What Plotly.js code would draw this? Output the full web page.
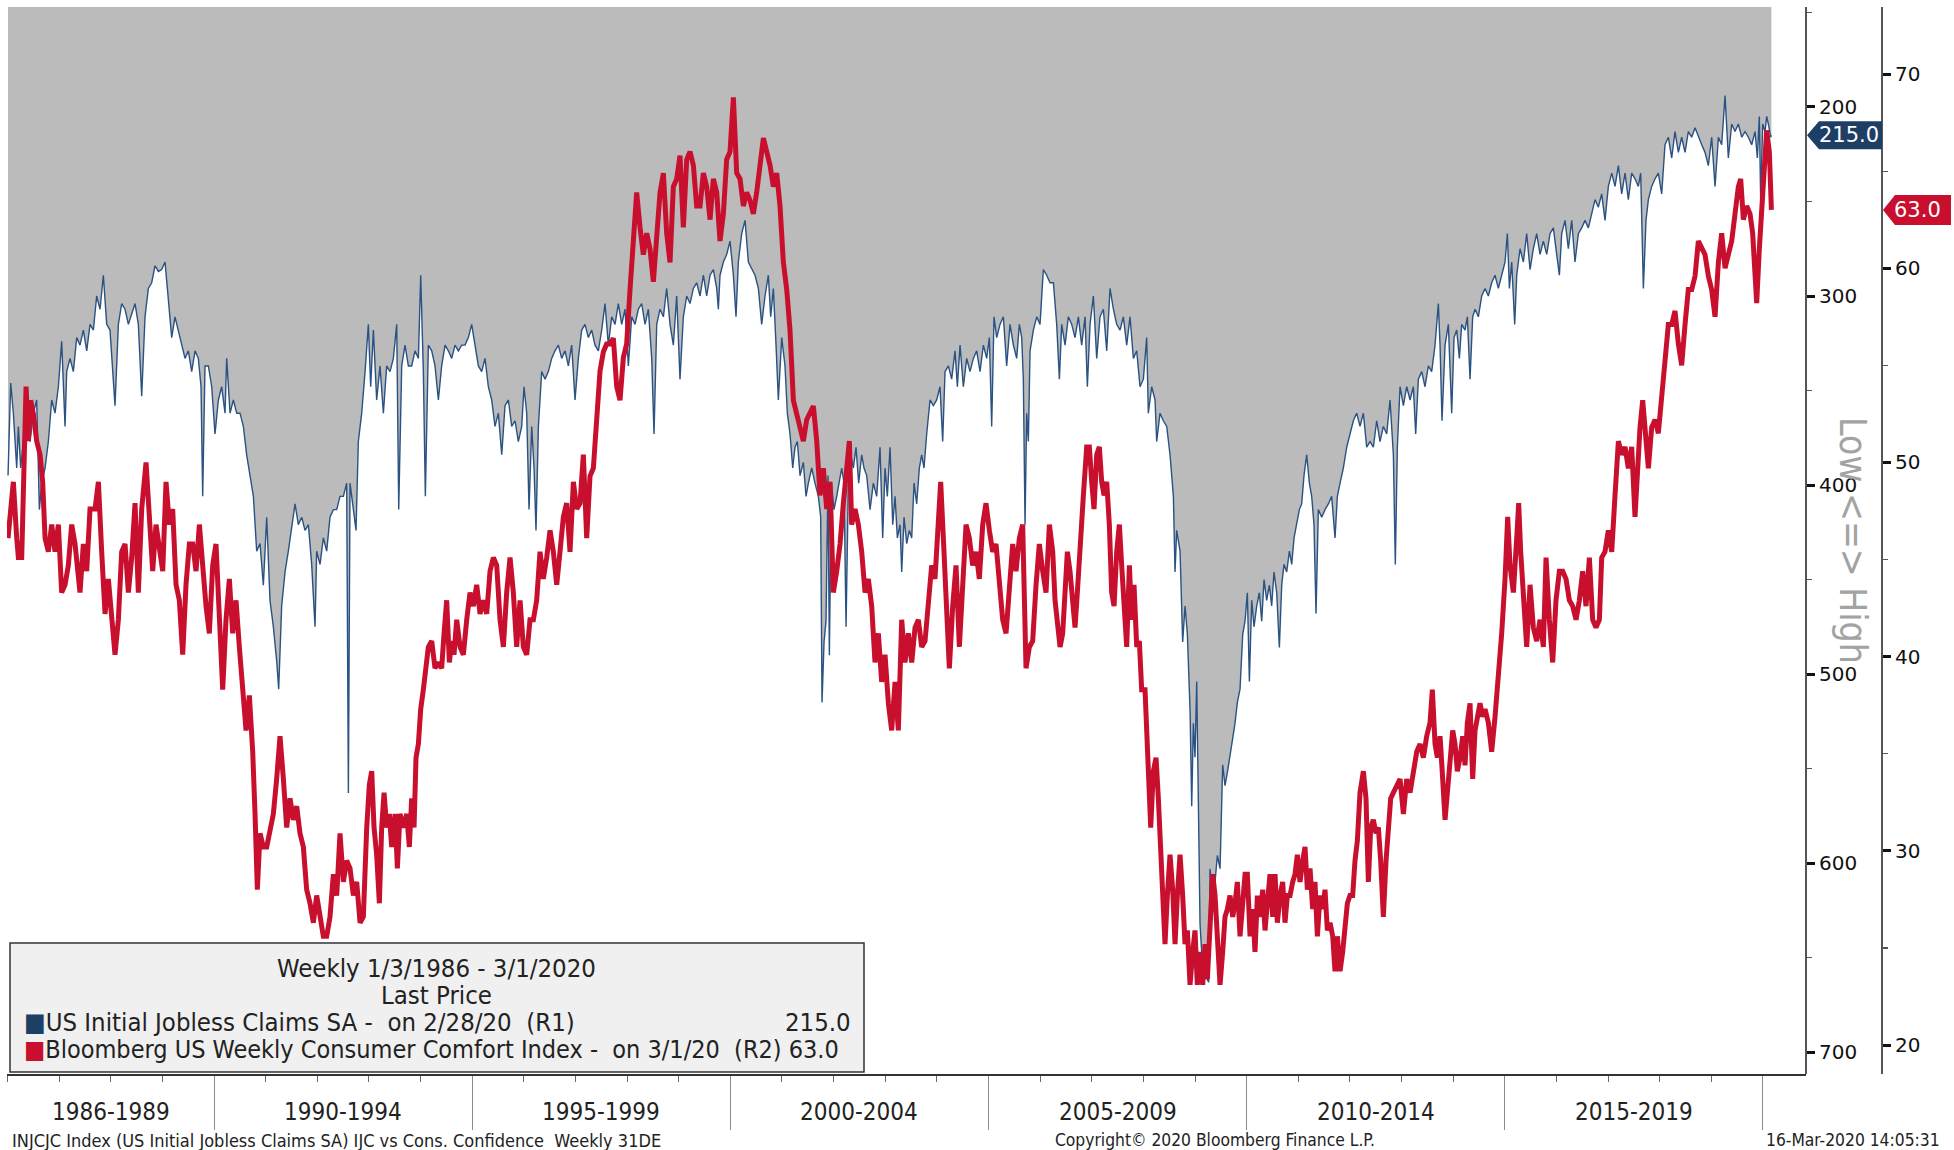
<!DOCTYPE html>
<html><head><meta charset="utf-8">
<script src="https://cdn.plot.ly/plotly-3.0.1.min.js"></script>
<style>html,body{margin:0;padding:0;background:#fff;overflow:hidden}#chart{width:1954px;height:1150px}</style>
</head><body><div id="chart"></div>
<script>
// ---------- DATA ----------
// US Initial Jobless Claims SA (thousands), x in decimal years
const claimsYear = [
1986.010,1986.062,1986.113,1986.146,1986.178,1986.210,1986.255,1986.307,1986.371,1986.436,
1986.501,1986.565,1986.617,1986.662,1986.727,1986.791,1986.856,1986.920,1986.985,1987.049,
1987.114,1987.146,1987.211,1987.275,1987.340,1987.404,1987.469,1987.534,1987.598,1987.663,
1987.727,1987.792,1987.856,1987.921,1987.985,1988.082,1988.147,1988.211,1988.276,1988.341,
1988.405,1988.470,1988.534,1988.599,1988.663,1988.728,1988.792,1988.857,1988.922,1988.986,
1989.051,1989.115,1989.180,1989.244,1989.309,1989.374,1989.438,1989.503,1989.567,1989.632,
1989.696,1989.748,1989.780,1989.825,1989.890,1989.955,1990.019,1990.084,1990.148,1990.213,
1990.245,1990.310,1990.374,1990.439,1990.503,1990.568,1990.632,1990.697,1990.762,1990.826,
1990.891,1990.955,1991.020,1991.084,1991.149,1991.213,1991.252,1991.310,1991.375,1991.439,
1991.504,1991.569,1991.633,1991.698,1991.762,1991.827,1991.891,1991.956,1991.988,1992.053,
1992.117,1992.182,1992.246,1992.311,1992.376,1992.440,1992.505,1992.569,1992.602,1992.634,
1992.699,1992.750,1992.795,1992.860,1992.925,1992.989,1993.034,1993.086,1993.150,1993.215,
1993.280,1993.344,1993.409,1993.473,1993.538,1993.577,1993.635,1993.699,1993.764,1993.828,
1993.893,1993.958,1994.003,1994.054,1994.093,1994.151,1994.216,1994.280,1994.345,1994.409,
1994.474,1994.539,1994.603,1994.668,1994.732,1994.797,1994.861,1994.926,1994.990,1995.055,
1995.120,1995.184,1995.249,1995.313,1995.378,1995.442,1995.507,1995.572,1995.636,1995.701,
1995.765,1995.830,1995.894,1995.959,1996.004,1996.056,1996.101,1996.153,1996.198,1996.236,
1996.282,1996.346,1996.411,1996.475,1996.540,1996.604,1996.669,1996.734,1996.798,1996.863,
1996.927,1996.992,1997.056,1997.121,1997.185,1997.250,1997.315,1997.379,1997.444,1997.508,
1997.573,1997.637,1997.702,1997.767,1997.831,1997.896,1997.960,1998.025,1998.089,1998.154,
1998.218,1998.283,1998.348,1998.412,1998.477,1998.522,1998.574,1998.638,1998.703,1998.767,
1998.832,1998.896,1998.961,1999.025,1999.090,1999.155,1999.219,1999.284,1999.348,1999.413,
1999.478,1999.542,1999.607,1999.671,1999.736,1999.768,1999.800,1999.865,1999.929,1999.994,
2000.059,2000.110,2000.155,2000.220,2000.285,2000.349,2000.414,2000.478,2000.543,2000.607,
2000.672,2000.736,2000.782,2000.833,2000.885,2000.930,2000.995,2001.059,2001.104,2001.156,
2001.208,2001.253,2001.298,2001.350,2001.414,2001.466,2001.511,2001.576,2001.640,2001.705,
2001.750,2001.776,2001.815,2001.853,2001.892,2001.918,2001.957,2002.008,2002.060,2002.112,
2002.157,2002.202,2002.241,2002.286,2002.331,2002.383,2002.434,2002.486,2002.544,2002.589,
2002.641,2002.706,2002.770,2002.835,2002.899,2002.951,2002.996,2003.041,2003.093,2003.145,
2003.190,2003.235,2003.287,2003.319,2003.364,2003.416,2003.467,2003.513,2003.558,2003.609,
2003.661,2003.706,2003.751,2003.803,2003.868,2003.932,2003.997,2004.061,2004.113,2004.158,
2004.223,2004.287,2004.352,2004.397,2004.449,2004.513,2004.578,2004.642,2004.707,2004.771,
2004.836,2004.901,2004.965,2005.017,2005.062,2005.107,2005.159,2005.223,2005.288,2005.352,
2005.417,2005.482,2005.546,2005.598,2005.643,2005.675,2005.708,2005.740,2005.772,2005.805,
2005.869,2005.934,2005.998,2006.063,2006.127,2006.192,
2006.257,2006.321,2006.373,2006.418,2006.483,2006.547,2006.612,2006.676,2006.741,2006.805,
2006.870,2006.915,2006.967,2007.031,2007.096,2007.160,2007.225,2007.290,2007.354,2007.419,
2007.483,2007.548,2007.612,2007.677,2007.741,2007.806,2007.871,2007.935,2008.000,2008.064,
2008.096,2008.161,2008.226,2008.258,2008.322,2008.387,2008.452,2008.516,2008.581,2008.613,
2008.645,2008.710,2008.761,2008.807,2008.852,2008.904,2008.936,2008.968,2009.000,2009.033,
2009.065,2009.097,2009.129,2009.175,2009.226,2009.265,2009.291,2009.343,2009.388,2009.433,
2009.485,2009.536,2009.581,2009.627,2009.678,2009.730,2009.775,2009.820,2009.872,2009.924,
2009.969,2010.014,2010.053,2010.098,2010.143,2010.195,2010.246,2010.292,2010.337,2010.388,
2010.440,2010.485,2010.530,2010.582,2010.634,2010.679,2010.724,2010.776,2010.828,2010.873,
2010.918,2010.970,2011.021,2011.066,2011.111,2011.163,2011.215,2011.260,2011.305,2011.344,
2011.389,2011.454,2011.518,2011.583,2011.647,2011.712,2011.757,2011.809,2011.873,2011.938,
2012.002,2012.067,2012.131,2012.196,2012.261,2012.325,2012.390,2012.454,2012.519,2012.583,
2012.648,2012.713,2012.777,2012.842,2012.880,2012.919,2012.971,
2013.036,2013.100,2013.165,2013.229,2013.274,2013.326,2013.391,2013.455,2013.520,2013.584,
2013.649,2013.713,2013.746,2013.784,2013.843,2013.907,2013.972,2014.017,2014.069,2014.120,
2014.165,2014.230,2014.275,2014.327,2014.378,2014.424,2014.488,2014.553,2014.617,2014.682,
2014.746,2014.811,2014.875,2014.940,2015.005,2015.050,2015.089,2015.134,2015.192,2015.231,
2015.295,2015.360,2015.424,2015.489,2015.553,2015.618,2015.683,2015.747,2015.812,2015.876,
2015.941,2016.005,2016.057,2016.102,2016.167,2016.231,2016.296,2016.360,2016.425,2016.489,
2016.554,2016.619,2016.683,2016.748,2016.812,2016.877,2016.941,2017.006,2017.071,2017.135,
2017.200,2017.264,2017.329,2017.393,2017.458,2017.522,2017.587,2017.632,2017.684,2017.735,
2017.781,2017.845,2017.910,2017.974,2018.039,2018.103,2018.168,2018.233,2018.297,2018.362,
2018.426,2018.491,2018.555,2018.620,2018.685,2018.749,2018.814,2018.878,2018.943,2019.007,
2019.072,2019.137,2019.201,2019.266,2019.330,2019.395,2019.459,2019.524,2019.589,2019.653,
2019.718,2019.782,2019.847,2019.892,2019.930,2019.956,2019.995,2020.040,2020.072,2020.105,
2020.150,2020.163
];
const claimsValue = [
395,346,362,377,391,369,391,377,366,377,
362,355,413,399,391,377,355,362,348,324,
369,340,333,340,322,326,318,329,315,318,
300,307,289,315,318,358,315,304,307,315,
309,304,315,353,311,296,293,284,287,286,
282,304,322,311,318,326,333,329,340,329,
333,348,406,337,337,348,373,355,348,362,
333,362,355,362,362,369,384,395,406,435,
431,453,417,461,475,493,508,464,446,435,
421,410,421,417,424,421,442,475,435,442,
428,435,417,413,413,406,406,399,563,399,
413,424,377,362,340,315,348,318,355,337,
362,337,340,333,315,413,337,326,337,337,
329,333,289,340,406,326,329,337,355,337,
326,329,333,326,329,326,326,322,315,326,
337,340,333,348,355,369,362,384,358,355,
369,366,377,369,348,362,413,369,391,424,
369,340,344,340,333,329,326,333,329,337,
326,355,333,318,315,322,318,326,329,318,
304,326,311,315,304,315,307,337,311,315,
307,304,315,307,333,373,315,307,311,296,
315,326,300,344,311,300,304,296,293,300,
289,300,289,286,296,307,289,282,278,271,
289,311,282,267,260,282,286,289,296,315,
300,289,311,296,326,355,322,337,362,373,
391,380,377,395,388,406,399,391,399,406,
417,515,483,472,395,490,399,413,406,399,
391,399,475,399,384,391,380,399,384,391,
395,413,399,406,380,428,391,406,380,421,
406,428,421,446,417,431,424,428,399,410,
391,384,391,373,355,358,355,348,377,340,
337,344,329,348,326,348,333,340,333,329,
340,326,333,322,369,311,322,315,311,337,
315,326,333,315,322,344,421,362,377,329,
318,311,315,286,289,293,
293,315,344,315,326,311,315,322,311,326,
311,348,315,300,333,311,307,329,296,307,
315,318,311,326,311,333,329,348,344,322,
362,348,355,377,362,366,369,384,406,446,
424,435,483,464,479,519,570,526,544,504,
581,632,647,654,661,663,603,617,610,596,
603,548,559,552,544,534,526,515,508,479,
472,457,504,461,475,464,457,472,450,461,
453,464,446,457,486,453,442,446,435,442,
428,421,413,410,395,384,399,406,421,468,
413,417,413,410,406,428,406,399,391,380,
373,366,362,369,362,380,377,380,366,377,
369,373,355,384,442,380,348,
358,348,355,348,373,344,340,348,337,340,
326,304,326,366,326,315,362,322,318,333,
315,318,311,344,311,307,311,300,296,300,
293,289,296,289,282,267,296,282,315,289,
275,282,267,286,275,267,278,271,278,267,
264,278,289,267,260,275,260,282,267,264,
260,264,256,249,253,246,260,242,235,242,
231,246,235,249,235,238,242,235,296,260,
249,242,238,235,246,220,216,227,213,224,
216,224,213,216,211,216,220,224,231,216,
242,216,220,194,227,209,213,209,216,213,
216,220,213,227,205,249,209,213,205,209,
216,215
];

// Bloomberg US Weekly Consumer Comfort Index, x in decimal years
const comfortYear = [
1986.010,1986.113,1986.178,1986.210,1986.275,1986.307,1986.359,1986.404,1986.449,1986.501,
1986.565,1986.630,1986.681,1986.727,1986.791,1986.856,1986.920,1986.985,1987.049,1987.114,
1987.178,1987.243,1987.308,1987.404,1987.469,1987.534,1987.598,1987.695,1987.760,1987.824,
1987.889,1987.953,1988.018,1988.082,1988.147,1988.211,1988.276,1988.341,1988.405,1988.470,
1988.534,1988.599,1988.683,1988.747,1988.812,1988.876,1988.941,1989.006,1989.070,1989.135,
1989.199,1989.264,1989.328,1989.393,1989.457,1989.522,1989.587,1989.651,1989.716,1989.780,
1989.845,1989.909,1989.974,1990.038,1990.103,1990.168,1990.232,1990.297,1990.361,1990.426,
1990.490,1990.555,1990.620,1990.684,1990.749,1990.794,1990.839,1990.891,1990.955,1991.020,
1991.084,1991.149,1991.213,1991.278,1991.343,1991.407,1991.472,1991.536,1991.601,1991.665,
1991.730,1991.794,1991.859,1991.924,1991.988,1992.053,1992.117,1992.182,1992.246,1992.311,
1992.376,1992.440,1992.505,1992.569,1992.634,
1992.699,1992.763,1992.828,1992.892,1992.957,1993.008,1993.054,1993.099,1993.150,1993.202,
1993.247,1993.293,1993.344,1993.396,1993.441,1993.506,1993.551,1993.602,1993.667,1993.732,
1993.783,1993.828,1993.874,1993.912,1993.958,1994.003,1994.054,1994.106,1994.151,1994.216,
1994.280,1994.345,1994.409,1994.455,1994.506,1994.558,1994.603,1994.648,1994.700,1994.765,
1994.829,1994.894,1994.958,1995.023,1995.087,1995.152,1995.216,1995.281,1995.346,1995.410,
1995.475,1995.539,1995.604,1995.668,1995.733,1995.797,1995.862,1995.927,1995.991,1996.056,
1996.120,1996.185,1996.249,1996.314,1996.378,1996.443,1996.508,1996.572,1996.637,1996.701,
1996.766,1996.830,1996.895,1996.960,1997.024,1997.089,1997.153,1997.218,1997.282,1997.347,
1997.411,1997.476,1997.541,1997.605,1997.670,1997.734,1997.799,1997.863,1997.928,1997.992,
1998.057,1998.122,1998.186,1998.251,1998.315,1998.380,1998.444,1998.509,1998.573,1998.638,
1998.703,1998.767,1998.832,1998.896,1998.961,1999.025,1999.090,1999.155,1999.219,1999.284,
1999.348,1999.413,
1999.478,1999.542,1999.607,1999.671,1999.736,1999.800,1999.865,1999.929,1999.994,2000.059,
2000.123,2000.188,2000.252,2000.317,2000.381,2000.446,2000.510,2000.575,2000.640,2000.704,
2000.769,2000.833,2000.898,2000.962,2001.027,2001.092,2001.156,2001.221,2001.285,2001.350,
2001.414,2001.479,2001.543,2001.608,2001.673,2001.737,2001.802,2001.866,2001.931,2001.995,
2002.060,2002.125,2002.189,2002.254,2002.305,2002.350,2002.415,2002.480,2002.544,2002.609,
2002.673,2002.738,2002.802,2002.867,2002.931,2002.996,2003.061,2003.125,2003.190,2003.254,
2003.319,2003.383,2003.448,2003.513,2003.577,2003.642,2003.706,2003.771,2003.835,2003.900,
2003.964,2004.029,2004.074,2004.126,2004.191,2004.242,2004.307,2004.371,2004.436,2004.500,
2004.565,2004.630,2004.694,2004.759,2004.823,2004.888,2004.952,2005.017,2005.081,2005.146,
2005.211,2005.275,2005.340,2005.404,2005.469,2005.533,2005.598,2005.662,2005.727,2005.792,
2005.856,2005.921,2005.985,2006.050,2006.114,2006.179,
2006.244,2006.289,2006.334,2006.386,2006.437,2006.483,2006.528,2006.579,2006.631,2006.676,
2006.721,2006.773,2006.838,2006.902,2006.954,2006.999,2007.044,2007.096,2007.147,2007.193,
2007.238,2007.290,2007.341,2007.386,2007.432,2007.483,2007.535,2007.580,2007.625,2007.677,
2007.729,2007.774,2007.819,2007.871,2007.922,2007.967,2008.032,2008.096,2008.142,2008.193,
2008.245,2008.290,2008.335,2008.387,2008.419,2008.464,2008.516,2008.568,2008.613,2008.658,
2008.710,2008.761,2008.807,2008.852,2008.904,2008.955,2009.000,2009.045,2009.097,2009.149,
2009.194,2009.239,2009.291,2009.343,2009.388,2009.433,2009.485,2009.536,2009.581,2009.627,
2009.678,2009.730,2009.775,2009.820,2009.872,2009.924,2009.969,2010.014,2010.066,2010.117,
2010.162,2010.208,2010.259,2010.311,2010.356,2010.401,2010.453,2010.505,2010.550,2010.595,
2010.647,2010.698,2010.743,2010.789,2010.840,2010.892,2010.937,2010.982,2011.034,2011.086,
2011.131,2011.176,2011.228,2011.279,2011.324,2011.370,2011.421,2011.473,2011.518,2011.563,
2011.615,2011.667,2011.712,2011.757,2011.809,2011.860,2011.905,2011.951,2012.002,2012.054,
2012.099,2012.144,2012.196,2012.261,2012.312,2012.358,2012.403,2012.454,2012.506,2012.551,
2012.596,2012.648,2012.700,2012.745,2012.790,2012.842,2012.906,2012.971,
2013.036,2013.100,2013.165,2013.229,2013.294,2013.358,2013.423,2013.487,2013.552,2013.597,
2013.649,2013.694,2013.746,2013.797,2013.843,2013.888,2013.939,2013.991,2014.036,2014.081,
2014.133,2014.185,2014.230,2014.275,2014.327,2014.378,2014.424,2014.469,2014.520,2014.572,
2014.617,2014.682,2014.746,2014.811,2014.875,2014.940,2015.005,2015.056,2015.101,2015.166,
2015.231,2015.269,2015.308,2015.360,2015.424,2015.489,2015.553,2015.618,2015.683,2015.747,
2015.799,2015.863,2015.928,2015.992,2016.057,2016.121,2016.186,2016.251,2016.315,2016.380,
2016.444,2016.509,2016.573,2016.638,2016.702,2016.767,2016.832,2016.877,2016.941,2017.006,
2017.071,2017.135,2017.200,2017.264,2017.329,2017.393,2017.458,2017.522,2017.568,2017.619,
2017.671,2017.716,2017.781,2017.845,2017.910,2017.974,2018.039,2018.103,2018.168,2018.233,
2018.297,2018.362,2018.426,2018.491,2018.555,2018.620,2018.685,2018.749,2018.814,2018.878,
2018.943,2019.007,2019.072,2019.137,2019.201,2019.266,2019.330,2019.395,2019.459,2019.524,
2019.569,2019.621,2019.685,2019.750,2019.801,2019.847,2019.879,2019.930,2019.975,2020.021,
2020.072,2020.124,2020.164
];
const comfortValue = [
46.1,49.0,46.1,45.1,45.1,49.7,53.9,51.1,53.2,52.5,
51.1,50.4,49.0,46.1,45.4,46.8,45.4,46.8,43.3,43.7,
44.7,46.8,45.8,43.3,45.8,44.4,47.6,47.6,49.0,45.4,
42.2,44.0,41.9,40.1,41.9,45.4,45.8,43.3,45.1,47.9,
43.3,47.6,50.0,47.6,44.4,46.8,45.4,44.4,49.0,46.8,
47.6,43.7,42.9,40.1,43.7,45.8,45.8,44.4,46.8,44.4,
42.6,41.2,44.7,45.8,41.9,38.3,41.9,44.0,41.2,42.9,
40.5,38.0,36.2,38.0,35.1,31.9,28.0,30.9,30.2,30.2,
31.2,31.9,33.7,35.9,33.7,31.2,32.7,31.6,32.3,30.9,
30.2,28.0,27.3,26.3,27.7,26.6,25.6,25.6,26.6,28.8,
27.7,30.9,28.4,29.5,29.1,
27.7,28.4,26.3,26.6,31.2,33.4,34.1,31.2,29.8,27.3,
31.2,33.0,31.2,31.9,30.2,31.9,29.1,31.9,31.2,31.9,
30.2,32.7,31.2,34.8,35.5,37.3,38.3,39.7,40.5,40.8,
39.4,39.7,39.4,41.2,42.9,39.7,40.8,40.1,41.9,40.5,
40.1,41.9,43.3,42.6,43.7,42.2,42.9,42.2,44.4,45.1,
44.7,41.9,40.5,43.3,45.1,43.3,40.5,42.9,40.5,40.1,
41.9,41.9,42.9,45.4,44.0,45.1,46.5,45.4,43.7,45.4,
47.2,47.9,45.4,49.0,47.6,47.9,50.4,46.1,49.3,49.7,
51.8,54.7,55.7,56.1,56.1,56.4,53.9,53.2,55.4,56.1,
58.9,61.8,63.9,62.1,60.7,61.8,61.0,59.3,62.1,63.9,
64.9,61.8,60.3,64.2,64.6,65.8,62.1,65.6,66.0,65.3,
63.2,63.2,
64.9,64.2,62.5,64.6,63.9,61.4,62.8,65.6,66.0,68.8,
64.9,64.6,63.2,63.9,63.5,62.8,63.9,65.6,66.7,66.0,
65.3,64.2,64.9,63.2,60.3,58.9,56.8,53.2,52.5,51.8,
51.1,52.2,52.5,52.9,51.1,48.3,49.7,47.6,49.0,43.3,
44.4,45.8,47.9,49.7,51.1,46.8,47.6,46.8,45.4,43.3,
44.0,42.6,39.7,41.2,38.7,40.1,37.6,36.2,38.7,36.2,
41.9,39.7,41.2,39.7,41.5,41.9,40.5,40.8,42.6,44.7,
44.0,46.8,49.0,46.1,41.9,39.4,42.6,44.7,40.5,44.0,
46.8,46.1,44.7,45.4,44.0,46.8,47.9,46.5,45.4,45.8,
44.0,41.9,41.2,43.3,45.8,44.4,46.1,46.8,39.4,40.5,
40.8,43.7,45.8,44.4,43.3,46.8,
45.4,42.9,41.9,40.5,41.2,44.0,45.4,44.4,42.9,41.5,
43.3,45.8,48.3,50.8,50.8,49.0,47.6,50.4,50.8,49.0,
48.3,49.0,46.8,43.3,42.6,45.4,46.8,44.7,42.6,40.5,
44.7,41.9,43.7,40.5,40.8,38.3,38.3,34.8,31.2,34.1,
34.8,32.7,30.2,27.7,25.2,27.7,29.8,28.0,25.2,27.7,
29.8,27.7,25.2,25.9,23.1,24.8,25.9,23.1,24.8,23.1,
25.2,23.4,25.6,28.8,27.7,25.6,23.1,24.8,26.6,27.0,
27.7,26.6,27.3,28.4,25.6,27.3,28.8,28.8,25.6,27.0,
24.8,27.7,26.6,28.0,25.9,27.3,28.8,26.6,28.8,26.3,
27.7,28.4,26.3,27.7,27.7,28.4,28.8,29.8,28.4,29.5,
30.2,28.0,29.1,27.0,28.4,25.6,27.7,27.0,28.0,25.9,
26.3,25.6,23.8,25.6,23.8,24.8,25.9,27.3,27.7,27.7,
29.5,30.5,33.0,34.1,32.7,28.4,31.2,31.6,30.9,31.2,
29.5,26.6,29.5,31.2,32.7,33.0,33.4,33.7,
31.9,33.7,33.0,34.1,35.1,35.5,34.8,35.9,36.6,38.3,
35.5,34.8,35.9,33.7,31.6,33.0,34.8,36.2,35.5,34.1,
34.8,35.9,34.4,36.6,37.6,33.7,36.2,36.9,37.6,36.9,
37.3,36.6,35.1,36.9,38.7,41.2,44.0,47.2,44.7,43.3,
46.1,47.9,45.4,42.9,40.5,43.7,41.5,40.8,41.9,40.5,
45.1,41.9,39.7,42.9,44.4,44.4,44.0,42.9,42.6,41.9,
42.9,44.4,42.6,45.1,41.9,41.5,41.9,45.1,45.4,46.5,
45.4,48.3,51.1,50.4,50.8,49.7,50.8,47.2,49.7,51.8,
53.2,51.8,49.7,51.8,52.2,51.5,53.6,55.4,57.1,57.1,
57.8,56.1,55.0,57.1,58.9,58.9,59.6,61.4,61.0,60.7,
59.6,58.9,57.5,60.3,61.8,60.0,60.7,61.4,62.8,64.2,
64.6,62.5,63.2,62.8,61.8,59.6,58.2,61.0,62.8,65.6,
67.1,66.0,63.0
];

// Axis / label text
const periodLabels  = ['1986-1989','1990-1994','1995-1999','2000-2004','2005-2009','2010-2014','2015-2019'];
const periodCenters = [1988, 1992.5, 1997.5, 2002.5, 2007.5, 2012.5, 2017.5];
const claimsName  = 'US Initial Jobless Claims SA';
const comfortName = 'Bloomberg US Weekly Consumer Comfort Index';
const claimsLastDate  = '2/28/20';
const comfortLastDate = '3/1/20';
const rangeText = 'Weekly 1/3/1986 - 3/1/2020';
const footerLeft = 'INJCJC Index (US Initial Jobless Claims SA) IJC vs Cons. Confidence\u00a0 Weekly 31DE';
const footerMid  = 'Copyright\u00a9 2020 Bloomberg Finance L.P.';
const footerRight = '16-Mar-2020 14:05:31';
const sideLabel = 'Low\u00a0&lt;=&gt;\u00a0High';

// ---------- LAYOUT ----------
const W = 1954, H = 1150;
const M = {l: 7, r: 72, t: 7, b: 76};
const PW = W - M.l - M.r, PH = H - M.t - M.b;
const px = p => (p - M.l) / PW;          // pixel x -> paper x
const py = p => (H - M.b - p) / PH;      // pixel y -> paper y
const R1 = px(1806);                     // claims axis position
const BLUE = '#2a5282', RED = '#c8102e', TAGBLUE = '#1d3f66';
const FT = '"DejaVu Sans", sans-serif';
const FC = '"DejaVu Sans Condensed", "DejaVu Sans", sans-serif';

const lastClaims = claimsValue[claimsValue.length - 1];
const lastComfort = comfortValue[comfortValue.length - 1];

const traces = [
  {type:'scatter', mode:'lines', x: claimsYear, y: claimsValue, xaxis:'x', yaxis:'y',
   fill:'tozeroy', fillcolor:'#bbbbbb', line:{color: BLUE, width:1.4},
   hoverinfo:'skip', showlegend:false},
  {type:'scatter', mode:'lines', x: comfortYear, y: comfortValue, xaxis:'x', yaxis:'y2',
   line:{color: RED, width:5}, hoverinfo:'skip', showlegend:false}
];

const annotations = [];
periodLabels.forEach((t, i) => annotations.push({
  xref:'x', x: periodCenters[i], yref:'paper', y: py(1112), text: t, showarrow:false,
  xanchor:'center', yanchor:'middle', font:{family: FC, size: 24, color:'#222'}
}));
annotations.push(
  {xref:'paper', x: R1, xshift: 43, yref:'y', y: lastClaims, text: lastClaims.toFixed(1), showarrow:false,
   xanchor:'center', yanchor:'middle', font:{family: FT, size: 21, color:'#fff'}},
  {xref:'paper', x: 1, xshift: 35, yref:'y2', y: lastComfort, text: lastComfort.toFixed(1), showarrow:false,
   xanchor:'center', yanchor:'middle', font:{family: FT, size: 21, color:'#fff'}},
  {xref:'paper', x: px(1853), yref:'paper', y: py(540), text: sideLabel, textangle: 90, showarrow:false,
   xanchor:'center', yanchor:'middle', font:{family: FC, size: 37, color:'#a3a3a3'}},
  {xref:'paper', x: px(436), yref:'paper', y: py(968), text: rangeText, showarrow:false,
   xanchor:'center', yanchor:'middle', font:{family: FC, size: 25.5, color:'#222'}},
  {xref:'paper', x: px(436), yref:'paper', y: py(995), text: 'Last Price', showarrow:false,
   xanchor:'center', yanchor:'middle', font:{family: FC, size: 25.5, color:'#222'}},
  {xref:'paper', x: px(22), yref:'paper', y: py(1022), showarrow:false, xanchor:'left', yanchor:'middle',
   text: '<span style="color:' + TAGBLUE + '">\u25A0</span>' + claimsName + ' -\u00a0 on ' + claimsLastDate + '\u00a0 (R1)',
   font:{family: FC, size: 25.5, color:'#222'}},
  {xref:'paper', x: px(853), yref:'paper', y: py(1022), showarrow:false, xanchor:'right', yanchor:'middle',
   text: lastClaims.toFixed(1), font:{family: FC, size: 25.5, color:'#222'}},
  {xref:'paper', x: px(22), yref:'paper', y: py(1049), showarrow:false, xanchor:'left', yanchor:'middle',
   text: '<span style="color:' + RED + '">\u25A0</span>' + comfortName + ' -\u00a0 on ' + comfortLastDate + '\u00a0 (R2) ' + lastComfort.toFixed(1),
   font:{family: FC, size: 25, color:'#222'}},
  {xref:'paper', x: px(10), yref:'paper', y: py(1140), text: footerLeft, showarrow:false,
   xanchor:'left', yanchor:'middle', font:{family: FC, size: 18, color:'#222'}},
  {xref:'paper', x: px(1215), yref:'paper', y: py(1140), text: footerMid, showarrow:false,
   xanchor:'center', yanchor:'middle', font:{family: FC, size: 17.3, color:'#222'}},
  {xref:'paper', x: px(1942), yref:'paper', y: py(1140), text: footerRight, showarrow:false,
   xanchor:'right', yanchor:'middle', font:{family: FC, size: 17.3, color:'#222'}}
);

const shapes = [
  {type:'rect', xref:'paper', yref:'paper', x0: px(10), x1: px(864), y0: py(1072), y1: py(943),
   fillcolor:'#f0f0f0', line:{color:'#333', width:1.5}, layer:'above'},
  {type:'path', xref:'paper', yref:'y', xsizemode:'pixel', ysizemode:'pixel',
   xanchor: R1, yanchor: lastClaims, path:'M 1,0 L 13,14 L 76,14 L 76,-14 L 13,-14 Z',
   fillcolor: TAGBLUE, line:{width:0}, layer:'above'},
  {type:'path', xref:'paper', yref:'y2', xsizemode:'pixel', ysizemode:'pixel',
   xanchor: 1, yanchor: lastComfort, path:'M 1,0 L 13,15 L 69,15 L 69,-15 L 13,-15 Z',
   fillcolor: RED, line:{width:0}, layer:'above'}
];

const layout = {
  width: W, height: H, margin: M, paper_bgcolor:'#fff', plot_bgcolor:'#fff', showlegend:false,
  xaxis: {domain:[0, R1], range:[1985.99, 2020.834], showgrid:false, zeroline:false,
    showline:true, linecolor:'#333', linewidth:1.5, tickmode:'linear', tick0:1990, dtick:5,
    ticks:'outside', ticklen:54, tickwidth:1, tickcolor:'#8a8a8a', showticklabels:false,
    minor:{ticks:'outside', ticklen:6, tickwidth:1, tickcolor:'#666', tickmode:'linear', tick0:1986, dtick:1},
    fixedrange:true},
  yaxis: {range:[711.6, 147.1], anchor:'free', position: R1, side:'right', showgrid:false, zeroline:false,
    showline:true, linecolor:'#555', linewidth:2, tickmode:'linear', tick0:200, dtick:100,
    ticks:'outside', ticklen:8, tickwidth:3, tickcolor:'#111',
    tickfont:{family: FT, size:20, color:'#111'},
    minor:{ticks:'outside', ticklen:5, tickwidth:1.2, tickcolor:'#555', dtick:50, tick0:0},
    fixedrange:true},
  yaxis2: {overlaying:'y', range:[18.51, 73.45], anchor:'free', position:1, side:'right', showgrid:false,
    zeroline:false, showline:true, linecolor:'#555', linewidth:2, tickmode:'linear', tick0:20, dtick:10,
    ticks:'outside', ticklen:8, tickwidth:3, tickcolor:'#111',
    tickfont:{family: FT, size:20, color:'#111'},
    minor:{ticks:'outside', ticklen:5, tickwidth:1.2, tickcolor:'#555', dtick:5, tick0:0},
    fixedrange:true},
  shapes: shapes,
  annotations: annotations
};

Plotly.newPlot('chart', traces, layout, {staticPlot:true, displayModeBar:false});
</script>
</body></html>
